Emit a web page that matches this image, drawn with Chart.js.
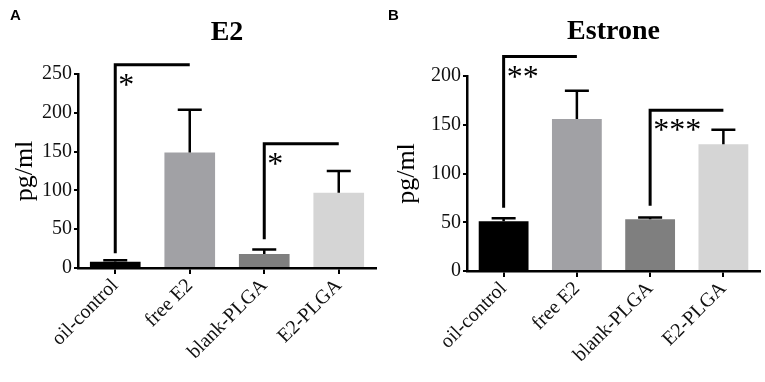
<!DOCTYPE html>
<html>
<head>
<meta charset="utf-8">
<script src="https://cdn.jsdelivr.net/npm/chart.js@4.4.0/dist/chart.umd.min.js"></script>
<style>
    body { margin: 0; background: #fff; }
    .panel { position: absolute; top: 0; }
    .letter {
        position: absolute;
        font-family: "Liberation Sans", Arial, sans-serif;
        font-weight: bold;
        font-size: 15px;
        color: #000;
    }
</style>
</head>
<body>
<div class="panel" style="left:0"><canvas id="graficoE2" width="382" height="382"></canvas></div>
<div class="panel" style="left:382px"><canvas id="graficoEstrone" width="383" height="382"></canvas></div>
<div class="letter" style="left:10px; top:6px">A</div>
<div class="letter" style="left:388px; top:6px">B</div>

<script>
const categorias = ['oil-control', 'free E2', 'blank-PLGA', 'E2-PLGA'];

// E2 (pg/ml): media e erro (so o lado de cima)
const e2Media = [8, 149, 18, 97];
const e2Erro = [2, 55, 6, 28];
const e2Ticks = [0, 50, 100, 150, 200, 250];

// Estrone (pg/ml)
const estroneMedia = [51, 156, 53, 130];
const estroneErro = [3, 29, 2, 15];
const estroneTicks = [0, 50, 100, 150, 200];

// barras de significancia: de / ate (categoria), base e topo em pg/ml
const e2Sig = [
    { de: 0, ate: 1, base: 19, topo: 262, texto: '*' },
    { de: 2, ate: 3, base: 37, topo: 160, texto: '*' }
];
const estroneSig = [
    { de: 0, ate: 1, base: 65, topo: 220, texto: '**' },
    { de: 2, ate: 3, base: 67, topo: 165, texto: '***' }
];

const coresBarras = ['#000000', '#a1a1a5', '#7f7f7f', '#d5d5d5'];
const SERIF = "'Liberation Serif', 'Times New Roman', serif";

Chart.defaults.font.family = SERIF;
Chart.defaults.color = '#111';

const errosEBarras = {
    id: 'errosEBarras',
    afterDatasetsDraw(chart, args, opts) {
        const ctx = chart.ctx;
        const y = chart.scales.y;
        const meta = chart.getDatasetMeta(0);
        ctx.save();
        ctx.strokeStyle = '#000';
        ctx.fillStyle = '#000';

        // erro
        ctx.lineWidth = 2.5;
        opts.media.forEach((m, i) => {
            const x = meta.data[i].x;
            const y0 = y.getPixelForValue(m);
            const y1 = y.getPixelForValue(m + opts.erro[i]);
            ctx.beginPath();
            ctx.moveTo(x, y0);
            ctx.lineTo(x, y1);
            ctx.moveTo(x - 12, y1);
            ctx.lineTo(x + 12, y1);
            ctx.stroke();
        });

        // significancia
        ctx.lineWidth = 3;
        ctx.lineJoin = 'miter';
        ctx.font = `32px ${SERIF}`;
        ctx.textAlign = 'left';
        ctx.textBaseline = 'alphabetic';
        opts.sig.forEach(s => {
            const xa = meta.data[s.de].x;
            const xb = meta.data[s.ate].x;
            const yb = y.getPixelForValue(s.base);
            const yt = y.getPixelForValue(s.topo);
            ctx.beginPath();
            ctx.moveTo(xa, yb);
            ctx.lineTo(xa, yt);
            ctx.lineTo(xb, yt);
            ctx.stroke();
            ctx.fillText(s.texto, xa + 3, yt + 30);
        });
        ctx.restore();
    }
};

function criarGrafico(id, titulo, media, erro, ticks, sig, layout) {
    const ctx = document.getElementById(id).getContext('2d');
    return new Chart(ctx, {
        type: 'bar',
        data: {
            labels: categorias,
            datasets: [{
                data: media,
                backgroundColor: coresBarras,
                borderWidth: 0,
                barPercentage: 0.68,
                categoryPercentage: 1
            }]
        },
        options: {
            responsive: false,
            animation: false,
            devicePixelRatio: 1,
            layout: { padding: { left: 0, right: layout.direita, top: 0, bottom: 0 } },
            plugins: {
                legend: { display: false },
                tooltip: { enabled: false },
                title: {
                    display: true,
                    text: titulo,
                    fullSize: false,
                    color: '#000',
                    font: { size: 28, weight: 'bold' },
                    padding: { top: layout.tituloTopo, bottom: layout.tituloBaixo }
                },
                errosEBarras: { media: media, erro: erro, sig: sig }
            },
            scales: {
                x: {
                    afterFit: scale => { scale.height = layout.alturaX; },
                    border: { display: true, color: '#000', width: 2.5 },
                    grid: { display: true, drawOnChartArea: false, offset: false, tickLength: 6, color: '#000', lineWidth: 2 },
                    ticks: {
                        minRotation: 45,
                        maxRotation: 45,
                        padding: 0,
                        font: { size: 20 }
                    }
                },
                y: {
                    min: 0,
                    max: ticks[ticks.length - 1],
                    afterFit: scale => { scale.width = layout.larguraY; },
                    afterBuildTicks: scale => { scale.ticks = ticks.map(v => ({ value: v })); },
                    border: { display: true, color: '#000', width: 2.5 },
                    grid: { display: true, drawOnChartArea: false, tickLength: 4, color: '#000', lineWidth: 2 },
                    ticks: {
                        padding: 2,
                        font: { size: 20 }
                    },
                    title: {
                        display: true,
                        text: 'pg/ml',
                        color: '#000',
                        font: { size: 26 },
                        padding: { top: 10, bottom: 0 }
                    }
                }
            }
        },
        plugins: [errosEBarras]
    });
}

criarGrafico('graficoE2', 'E2', e2Media, e2Erro, e2Ticks, e2Sig,
    { direita: 6, alturaX: 114, larguraY: 78, tituloTopo: 16, tituloBaixo: 24.4 });
criarGrafico('graficoEstrone', 'Estrone', estroneMedia, estroneErro, estroneTicks, estroneSig,
    { direita: 5, alturaX: 111, larguraY: 85, tituloTopo: 15, tituloBaixo: 27.4 });
</script>
</body>
</html>
